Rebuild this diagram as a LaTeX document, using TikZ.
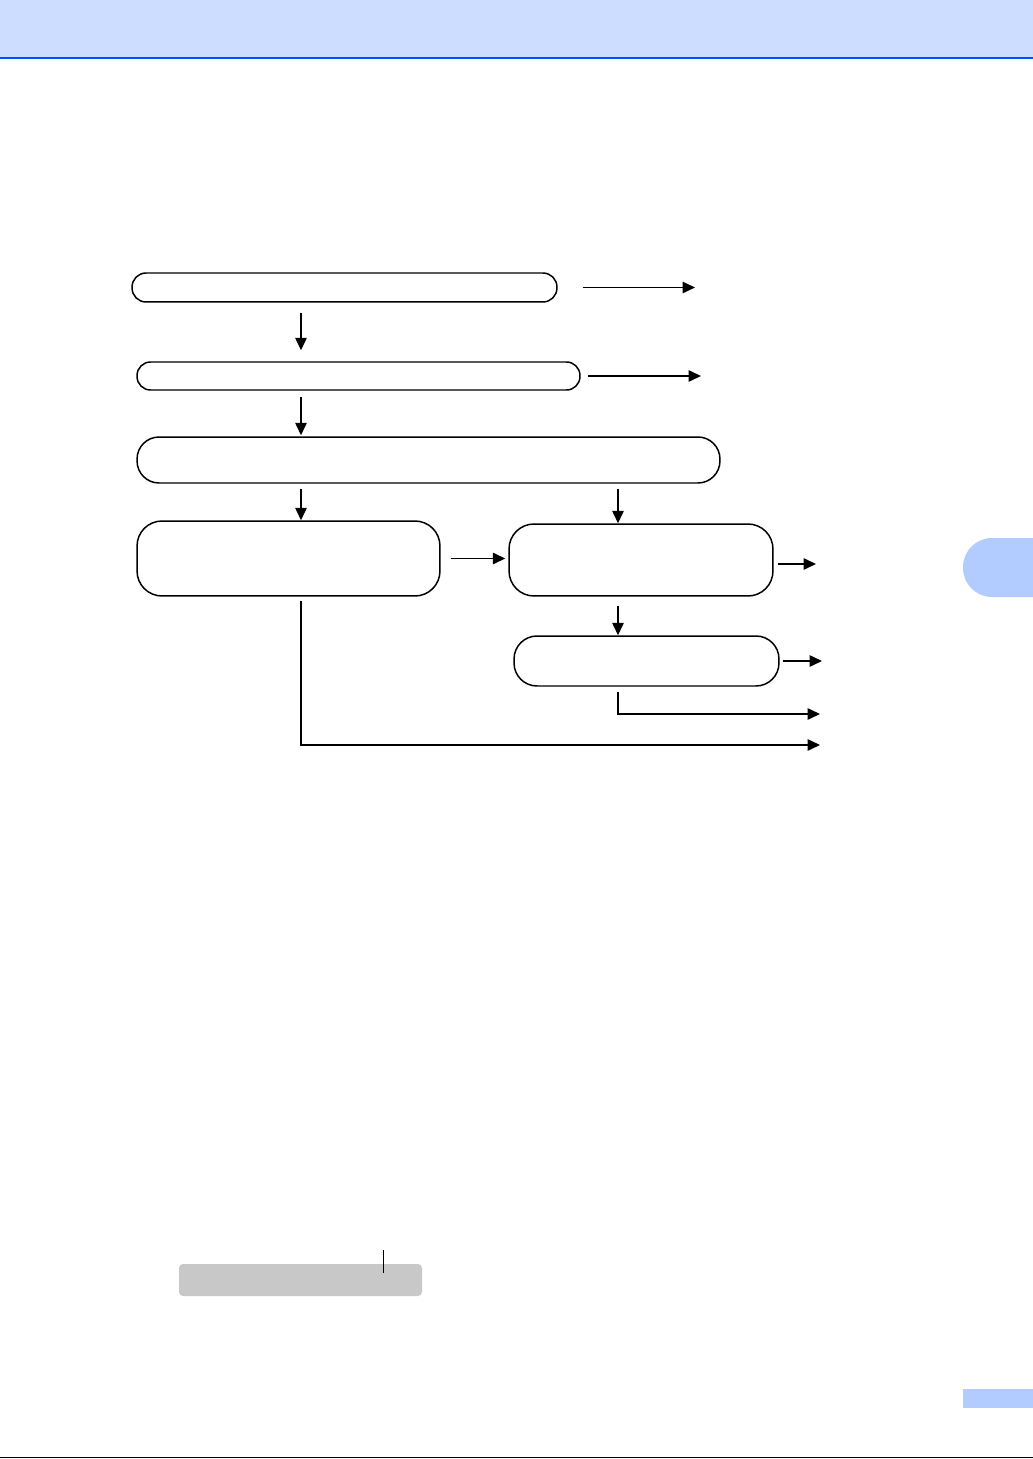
\documentclass[tikz,border=0pt]{standalone}
\usetikzlibrary{arrows.meta}
\definecolor{headblue}{RGB}{204,221,255}
\definecolor{lineblue}{RGB}{0,80,255}
\definecolor{tabblue}{RGB}{179,204,255}
\definecolor{boxgray}{RGB}{200,200,200}
\begin{document}
\begin{tikzpicture}[x=0.02cm,y=-0.02cm]

      \tikzset{pill/.style={draw, line width=0.85pt, inner sep=0pt},
               flow/.style={line width=0.85pt, -{Triangle[length=0.25cm,width=0.23cm]}}}
      \useasboundingbox (0,0) rectangle (1033,1459);
%% Page
      \fill[headblue] (0,0) rectangle (1033,57);
      \draw[lineblue, line width=1.1pt] (0,58) -- (1033,58);
      \begin{scope}
        \clip (0,0) rectangle (1033,1459);
        \fill[tabblue, rounded corners=0.58cm] (963,538) rectangle (1070,597);
      \end{scope}
      \fill[boxgray, rounded corners=0.08cm] (179,1264) rectangle (422,1296);
      \draw[line width=0.5pt] (383,1250) -- (383,1273);
      \fill[tabblue] (963,1389) rectangle (1033,1408);
      \draw[line width=0.5pt] (0,1457.5) -- (1033,1457.5);

%% Boxes
      \node[pill, rounded corners=0.28cm, minimum width=8.5cm, minimum height=0.58cm] (b1) at (344.5,287.5) {};
      \node[pill, rounded corners=0.27cm, minimum width=8.86cm, minimum height=0.56cm] (b2) at (358.5,376) {};
      \node[pill, rounded corners=0.44cm, minimum width=11.66cm, minimum height=0.92cm] (b3) at (428.5,460) {};
      \node[pill, rounded corners=0.5cm, minimum width=6.06cm, minimum height=1.5cm] (b4) at (288.5,558.5) {};
      \node[pill, rounded corners=0.5cm, minimum width=5.28cm, minimum height=1.44cm] (b5) at (641,560) {};
      \node[pill, rounded corners=0.46cm, minimum width=5.3cm, minimum height=1.0cm] (b6) at (646.5,661) {};

%% Columns and free ends
      \coordinate (c1) at (301,0);
      \coordinate (c2) at (618,0);
      \coordinate (e1) at (695,287.5);
      \coordinate (e2) at (701,376);
      \coordinate (e5) at (816,564);
      \coordinate (e6) at (822,661);
      \coordinate (e7) at (820,714);
      \coordinate (e8) at (820,745);

%Edges
      \draw[flow, shorten <=0.2cm, shorten >=0.22cm] (b1.south -| c1) -- (b2.north -| c1);
      \draw[flow, shorten <=0.12cm, shorten >=0.02cm] (b2.south -| c1) -- (b3.north -| c1);
      \draw[flow, shorten <=0.1cm] (b3.south -| c1) -- (b4.north -| c1);
      \draw[flow, shorten <=0.1cm] (b3.south -| c2) -- (b5.north -| c2);
      \draw[flow, shorten <=0.18cm] (b5.south -| c2) -- (b6.north -| c2);
      \draw[flow, shorten <=0.5cm] (b1.east) -- (e1);
      \draw[flow, shorten <=0.14cm] (b2.east) -- (e2);
      \draw[flow, shorten <=0.2cm, shorten >=0.06cm] (b4.east) -- (b4.east -| b5.west);
      \draw[flow, shorten <=0.08cm] (b5.east |- e5) -- (e5);
      \draw[flow, shorten <=0.06cm] (b6.east) -- (e6);
      \draw[flow, shorten <=0.1cm] (b6.south -| c2) |- (e7);
      \draw[flow, shorten <=0.08cm] (b4.south -| c1) |- (e8);
\end{tikzpicture}
\end{document}
